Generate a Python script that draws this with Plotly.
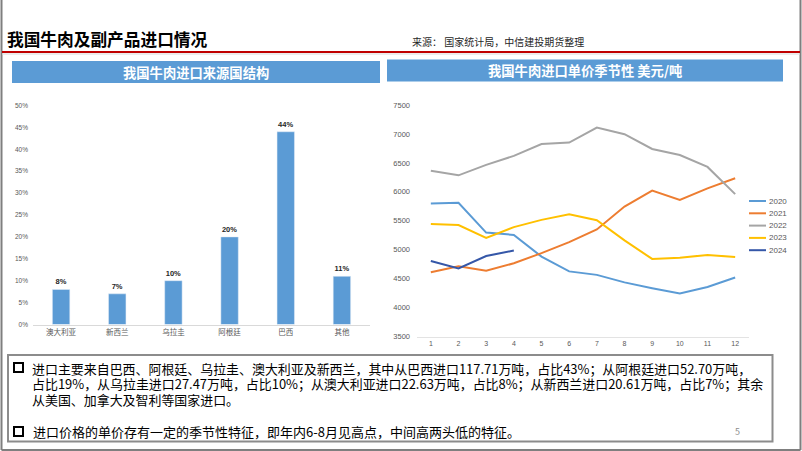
import plotly.graph_objects as go

W, H = 802, 451

# ---- data ----
countries = ["澳大利亚", "新西兰", "乌拉圭", "阿根廷", "巴西", "其他"]
shares = [0.08, 0.07, 0.10, 0.20, 0.44, 0.11]

months = list(range(1, 13))
price_2020 = [5800, 5810, 5295, 5255, 4880, 4625, 4565, 4435, 4335, 4245, 4355, 4520]
price_2021 = [4610, 4715, 4635, 4765, 4940, 5130, 5350, 5745, 6020, 5860, 6060, 6235]
price_2022 = [6365, 6285, 6465, 6620, 6825, 6850, 7110, 6995, 6740, 6635, 6430, 5960]
price_2023 = [5445, 5425, 5205, 5390, 5515, 5610, 5510, 5160, 4840, 4860, 4910, 4875]
price_2024 = [4805, 4675, 4890, 4985]
years = ["2020", "2021", "2022", "2023", "2024"]
year_colors = ["#5B9BD5", "#ED7D31", "#A5A5A5", "#FFC000", "#3557A8"]

title_main = "我国牛肉及副产品进口情况"
source_text = "来源： 国家统计局，中信建投期货整理"
bar_title = "我国牛肉进口来源国结构"
line_title = "我国牛肉进口单价季节性 美元/吨"
note1_lines = [
    "进口主要来自巴西、阿根廷、乌拉圭、澳大利亚及新西兰，其中从巴西进口117.71万吨，占比43%；从阿根廷进口52.70万吨，",
    "占比19%，从乌拉圭进口27.47万吨，占比10%；从澳大利亚进口22.63万吨，占比8%；从新西兰进口20.61万吨，占比7%；其余",
    "从美国、加拿大及智利等国家进口。",
]
note2 = "进口价格的单价存有一定的季节性特征，即年内6-8月见高点，中间高两头低的特征。"
page_no = "5"

FONT = "Noto Sans CJK SC"

def px(x):
    return x / W

def py(y):
    return 1 - y / H

fig = go.Figure()

fig.add_trace(go.Bar(
    x=countries, y=shares, marker_color="#5B9BD5", width=0.31,
    texttemplate="<b>%{y:.0%}</b>", textposition="outside",
    textfont=dict(size=7.5, color="#262626", family="Arial"),
    cliponaxis=False, showlegend=False, xaxis="x", yaxis="y",
))

series = [price_2020, price_2021, price_2022, price_2023, price_2024]
for name, vals, col in zip(years, series, year_colors):
    fig.add_trace(go.Scatter(
        x=months[:len(vals)], y=vals, mode="lines", name=name,
        line=dict(color=col, width=2), xaxis="x2", yaxis="y2", showlegend=False,
    ))

fig.update_layout(
    width=W, height=H,
    margin=dict(l=0, r=0, t=0, b=0, autoexpand=False),
    showlegend=False,
    paper_bgcolor="white", plot_bgcolor="white",
    font=dict(family=FONT, color="#595959"),
    xaxis=dict(domain=[px(33), px(370)], range=[-0.5, 5.5], showgrid=False,
               showline=True, linecolor="#D9D9D9", linewidth=1, ticks="",
               tickfont=dict(size=7.5, color="#595959", family=FONT), fixedrange=True),
    yaxis=dict(domain=[py(324.5), py(105.5)], range=[0, 0.5], dtick=0.05,
               tickformat=".0%", showgrid=False, showline=False, zeroline=False,
               tickfont=dict(size=6.5, color="#595959", family="Arial"), ticklabelstandoff=4),
    xaxis2=dict(domain=[px(417), px(749)], range=[0.5, 12.5], dtick=1, showgrid=False,
                showline=True, linecolor="#E3E3E3", linewidth=1, ticks="",
                tickfont=dict(size=7, color="#595959", family="Arial"), anchor="y2"),
    yaxis2=dict(domain=[py(336.5), py(105)], range=[3500, 7500], dtick=500,
                showgrid=False, showline=False, zeroline=False, anchor="x2",
                tickfont=dict(size=7.5, color="#595959", family="Arial"), ticklabelstandoff=6),
)

shapes = [
    # slide border
    dict(type="line", x0=px(1.5), x1=px(1.5), y0=py(0), y1=py(450), line=dict(color="#7F7F7F", width=2)),
    dict(type="line", x0=px(800.5), x1=px(800.5), y0=py(0), y1=py(450), line=dict(color="#7F7F7F", width=2)),
    dict(type="line", x0=px(1.5), x1=px(800.5), y0=py(450), y1=py(450), line=dict(color="#7F7F7F", width=2)),
    # red rule
    dict(type="line", x0=px(2), x1=px(800), y0=py(52), y1=py(52), line=dict(color="#C00000", width=2)),
    dict(type="line", x0=px(2), x1=px(800), y0=py(54), y1=py(54), line=dict(color="#D9D9D9", width=1)),
    # banners
    dict(type="rect", x0=px(12), x1=px(380), y0=py(83), y1=py(61), fillcolor="#5B9BD5", line=dict(width=0), layer="below"),
    dict(type="rect", x0=px(387), x1=px(783), y0=py(81.5), y1=py(59.5), fillcolor="#5B9BD5", line=dict(width=0), layer="below"),
    # notes box
    dict(type="rect", x0=px(8), x1=px(772.5), y0=py(441.5), y1=py(355), line=dict(color="#8C8C8C", width=2), fillcolor="rgba(0,0,0,0)"),
    # checkboxes
    dict(type="rect", x0=px(14), x1=px(23), y0=py(372), y1=py(363), line=dict(color="#000000", width=2)),
    dict(type="rect", x0=px(14), x1=px(23), y0=py(436), y1=py(427), line=dict(color="#000000", width=2)),
]

annotations = [
    dict(text="<b>" + title_main + "</b>", x=px(5), y=py(39), xanchor="left", yanchor="middle",
         font=dict(size=16.7, color="#000000", family=FONT)),
    dict(text=source_text, x=px(410), y=py(41), xanchor="left", yanchor="middle",
         font=dict(size=10, color="#262626", family=FONT)),
    dict(text="<b>" + bar_title + "</b>", x=px(196), y=py(72), xanchor="center", yanchor="middle",
         font=dict(size=13.3, color="#FFFFFF", family=FONT)),
    dict(text="<b>" + line_title + "</b>", x=px(585), y=py(70.5), xanchor="center", yanchor="middle",
         font=dict(size=13.3, color="#FFFFFF", family=FONT)),
    dict(text=note2, x=px(31), y=py(431.5), xanchor="left", yanchor="middle", align="left",
         font=dict(size=13, color="#000000", family=FONT)),
    dict(text=page_no, x=px(737), y=py(431), xanchor="center", yanchor="middle",
         font=dict(size=9, color="#8C8C8C", family=FONT)),
]
for i, line in enumerate(note1_lines):
    annotations.append(dict(text=line, x=px(31), y=py(368 + i * 15.7), xanchor="left", yanchor="middle",
                            align="left", borderpad=0, font=dict(size=12.95, color="#000000", family=FONT)))

# legend (line chart)
for i, (name, col) in enumerate(zip(years, year_colors)):
    yy = 201 + i * 12.3
    shapes.append(dict(type="line", x0=px(749), x1=px(766), y0=py(yy), y1=py(yy), line=dict(color=col, width=2)))
    annotations.append(dict(text=name, x=px(767), y=py(yy), xanchor="left", yanchor="middle",
                            font=dict(size=8, color="#595959", family="Arial")))

for s in shapes:
    s.update(xref="paper", yref="paper")
for a in annotations:
    a.update(xref="paper", yref="paper", showarrow=False)

fig.update_layout(shapes=shapes, annotations=annotations)
fig.write_html("out.html", config={"displayModeBar": False},
               post_script="document.body.style.margin='0';document.body.style.padding='0';")
